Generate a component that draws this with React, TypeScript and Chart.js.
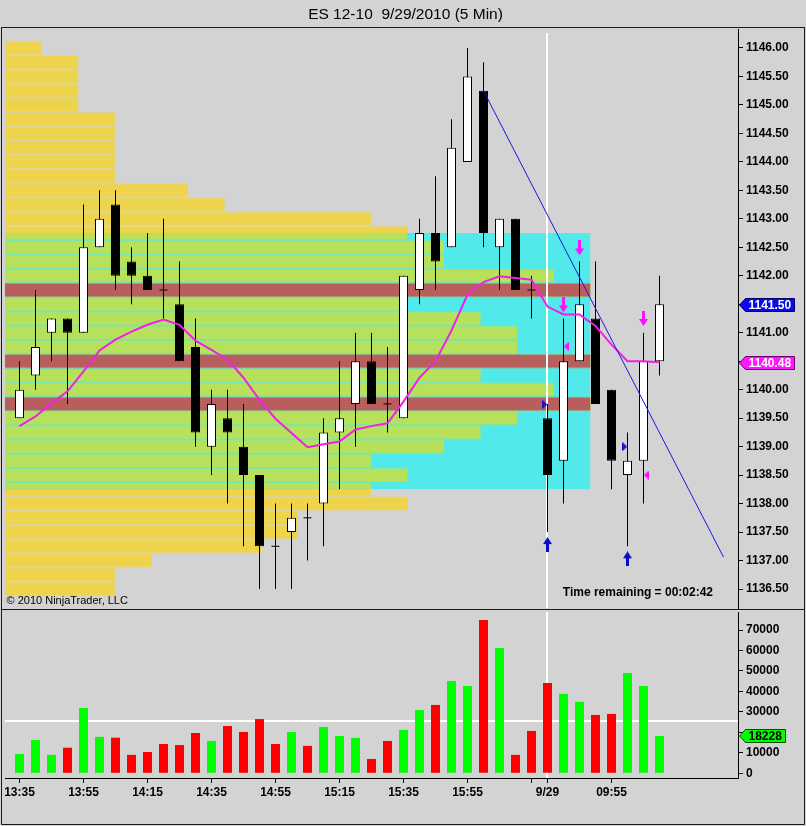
import React, { useEffect, useRef } from 'react';
import { Chart, registerables } from 'chart.js';

Chart.register(...registerables);

const FONT = 'Arial, "Liberation Sans", sans-serif';

const chartTitle = 'ES 12-10  9/29/2010 (5 Min)';
const copyrightText = '© 2010 NinjaTrader, LLC';
const timeRemainingText = 'Time remaining = 00:02:42';

const barTimes = ['13:35','13:40','13:45','13:50','13:55','14:00','14:05','14:10','14:15','14:20','14:25','14:30','14:35','14:40','14:45','14:50','14:55','15:00','15:05','15:10','15:15','15:20','15:25','15:30','15:35','15:40','15:45','15:50','15:55','16:00','16:05','16:10','16:15','09:35','09:40','09:45','09:50','09:55','10:00','10:05','10:10'];

const opens  = [1139.50,1140.25,1141.00,1141.25,1141.00,1142.50,1143.25,1142.25,1142.00,1141.75,1141.50,1140.75,1139.00,1139.50,1139.00,1138.50,1137.25,1137.50,1137.75,1138.00,1139.25,1139.75,1140.50,1139.75,1139.50,1141.75,1142.75,1142.50,1144.00,1145.25,1142.50,1143.00,1141.75,1139.50,1138.75,1140.50,1141.25,1140.00,1138.50,1138.75,1140.50];
const highs  = [1140.50,1141.75,1141.25,1141.25,1143.25,1143.50,1143.50,1142.50,1142.75,1143.00,1142.25,1141.25,1140.00,1140.00,1139.75,1138.50,1138.00,1138.00,1138.00,1139.50,1140.50,1141.00,1141.00,1140.75,1142.00,1143.00,1143.75,1144.75,1146.00,1145.75,1143.00,1143.00,1142.00,1139.75,1141.25,1142.25,1142.25,1140.00,1139.25,1141.00,1142.00];
const lows   = [1139.50,1140.00,1140.50,1139.75,1141.00,1142.50,1141.75,1141.50,1141.75,1141.25,1140.50,1139.00,1138.50,1138.00,1137.25,1136.50,1136.50,1136.50,1137.00,1137.25,1138.25,1139.00,1139.75,1139.25,1139.50,1141.50,1141.75,1142.50,1144.00,1142.50,1141.75,1141.75,1141.25,1137.50,1138.00,1140.50,1139.75,1138.25,1137.25,1138.00,1140.25];
const closes = [1140.00,1140.75,1141.25,1141.00,1142.50,1143.00,1142.00,1142.00,1141.75,1141.75,1140.50,1139.25,1139.75,1139.25,1138.50,1137.25,1137.25,1137.75,1137.75,1139.25,1139.50,1140.50,1139.75,1139.75,1142.00,1142.75,1142.25,1144.25,1145.50,1142.75,1143.00,1141.75,1141.75,1138.50,1140.50,1141.50,1139.75,1138.75,1138.75,1140.50,1141.50];
const volumes = [9400,16300,9000,12500,31900,17800,17400,9000,10400,14300,13800,19700,15800,23100,20200,26500,14300,20200,13400,22600,18200,17300,7000,15800,21200,30900,33400,45100,42700,74900,61200,9000,20700,44100,38800,34900,28500,29000,49000,42700,18228];
const smaValues = [1139.36,1139.53,1139.76,1139.97,1140.32,1140.69,1140.88,1141.02,1141.14,1141.23,1141.14,1140.86,1140.70,1140.53,1140.21,1139.82,1139.49,1139.24,1138.99,1139.04,1139.09,1139.30,1139.36,1139.41,1139.79,1140.21,1140.50,1141.04,1141.67,1141.89,1141.99,1141.96,1141.93,1141.46,1141.32,1141.32,1141.12,1140.79,1140.50,1140.50,1140.48];

const priceTicks = [1136.5,1137.0,1137.5,1138.0,1138.5,1139.0,1139.5,1140.0,1140.5,1141.0,1141.5,1142.0,1142.5,1143.0,1143.5,1144.0,1144.5,1145.0,1145.5,1146.0];
const volumeTicks = [0,10000,20000,30000,40000,50000,60000,70000];
const xTickBars = ['13:35','13:55','14:15','14:35','14:55','15:15','15:35','15:55','16:15','09:35','09:55'];
const xTickLabels = ['13:35','13:55','14:15','14:35','14:55','15:15','15:35','15:55','','9/29','09:55'];

// volume profile (TPO counts per 0.25 price level)
const profilePrices = [1146.00,1145.75,1145.50,1145.25,1145.00,1144.75,1144.50,1144.25,1144.00,1143.75,1143.50,1143.25,1143.00,1142.75,1142.50,1142.25,1142.00,1141.75,1141.50,1141.25,1141.00,1140.75,1140.50,1140.25,1140.00,1139.75,1139.50,1139.25,1139.00,1138.75,1138.50,1138.25,1138.00,1137.75,1137.50,1137.25,1137.00,1136.75,1136.50];
const profileCounts = [1,2,2,2,2,3,3,3,3,3,5,6,10,11,12,12,15,16,11,13,14,14,16,13,15,16,14,13,12,10,11,10,11,8,8,7,4,3,3];
const profileTick = 0.25;
const valueAreaHigh = 1142.75;
const valueAreaLow = 1138.25;

// drawing objects
const trendBars = [29, 44];
const trendPrices = [1145.25, 1137.06];
const longArrowBars = [33, 38];
const longArrowPrices = [1137.28, 1137.03];
const shortArrowBars = [34, 35, 39];
const shortArrowPrices = [1141.49, 1142.49, 1141.25];
const buyMarkBars = [33, 38];
const buyMarkPrices = [1139.74, 1139.00];
const sellMarkBars = [34, 39];
const sellMarkPrices = [1140.76, 1138.50];

const crossBar = 33;
const crossVolume = 25200;

const X_MIN = -0.90625;
const X_MAX = 44.90625;

const C_BG = '#D3D3D3';
const C_YELLOW = '#EED44C';
const C_GREEN = '#B7E05B';
const C_CYAN = '#52E9EA';
const C_RED = '#B85E5D';

const LAST = closes.length - 1;

function makeArrow(color: string, dir: 'up' | 'down') {
  const c = document.createElement('canvas');
  c.width = 9; c.height = 15;
  const g = c.getContext('2d')!;
  g.fillStyle = color;
  g.beginPath();
  if (dir === 'down') {
    g.moveTo(3, 0); g.lineTo(6, 0); g.lineTo(6, 8); g.lineTo(9, 8); g.lineTo(4.5, 15); g.lineTo(0, 8); g.lineTo(3, 8);
  } else {
    g.moveTo(4.5, 0); g.lineTo(9, 7); g.lineTo(6, 7); g.lineTo(6, 15); g.lineTo(3, 15); g.lineTo(3, 7); g.lineTo(0, 7);
  }
  g.closePath(); g.fill();
  return c;
}

function makeTri(color: string, dir: 'left' | 'right') {
  const c = document.createElement('canvas');
  c.width = 5; c.height = 9;
  const g = c.getContext('2d')!;
  g.fillStyle = color;
  g.beginPath();
  if (dir === 'right') { g.moveTo(0, 0); g.lineTo(5, 4.5); g.lineTo(0, 9); }
  else { g.moveTo(5, 0); g.lineTo(0, 4.5); g.lineTo(5, 9); }
  g.closePath(); g.fill();
  return c;
}

function drawTag(ctx: CanvasRenderingContext2D, tipX: number, y: number, text: string, fill: string, stroke: string, textColor: string) {
  ctx.save();
  ctx.font = `bold 12px ${FONT}`;
  const tw = ctx.measureText(text).width;
  const h = 13, tipW = 6;
  const left = Math.round(tipX) + 0.5;
  const top = Math.round(y - h / 2) + 0.5;
  const right = Math.round(left + tipW + 3 + tw + 3) + 0.5;
  ctx.beginPath();
  ctx.moveTo(left, top + h / 2);
  ctx.lineTo(left + tipW, top);
  ctx.lineTo(right, top);
  ctx.lineTo(right, top + h);
  ctx.lineTo(left + tipW, top + h);
  ctx.closePath();
  ctx.fillStyle = fill; ctx.fill();
  ctx.strokeStyle = stroke; ctx.lineWidth = 1; ctx.stroke();
  ctx.fillStyle = textColor; ctx.textBaseline = 'middle'; ctx.textAlign = 'left';
  ctx.fillText(text, left + tipW + 3, top + h / 2 + 0.5);
  ctx.restore();
}

const pricePlugin = {
  id: 'pricePanel',
  beforeDatasetsDraw(chart: any) {
    const { ctx, chartArea, scales } = chart;
    const y = scales.y, xp = scales.xp, x = scales.x;
    const maxCount = Math.max(...profileCounts);
    ctx.save();
    ctx.beginPath();
    ctx.rect(chartArea.left, chartArea.top, chartArea.right - chartArea.left, chartArea.bottom - chartArea.top);
    ctx.clip();
    const drawRow = (price: number, count: number, color: string) => {
      const top = y.getPixelForValue(price + profileTick / 2);
      const bot = y.getPixelForValue(price - profileTick / 2);
      const l = xp.getPixelForValue(0), r = xp.getPixelForValue(count);
      ctx.fillStyle = color;
      ctx.globalAlpha = 0.45;
      ctx.fillRect(l, top, r - l, bot - top);
      ctx.globalAlpha = 1;
      ctx.fillRect(l, top + 1, r - l, bot - top - 2);
    };
    profilePrices.forEach((p, i) => drawRow(p, profileCounts[i], C_YELLOW));
    const bTop = y.getPixelForValue(valueAreaHigh);
    const bBot = y.getPixelForValue(valueAreaLow);
    ctx.save();
    ctx.beginPath();
    ctx.rect(chartArea.left, bTop, chartArea.right - chartArea.left, bBot - bTop);
    ctx.clip();
    ctx.fillStyle = C_CYAN;
    ctx.fillRect(xp.getPixelForValue(0), bTop, xp.getPixelForValue(maxCount) - xp.getPixelForValue(0), bBot - bTop);
    profilePrices.forEach((p, i) => drawRow(p, profileCounts[i], C_GREEN));
    ctx.restore();
    profilePrices.forEach((p, i) => { if (profileCounts[i] === maxCount) drawRow(p, maxCount, C_RED); });
    // crosshair
    const cx = Math.floor(x.getPixelForValue(crossBar)) - 1;
    ctx.fillStyle = '#FFFFFF';
    ctx.fillRect(cx, chartArea.top + 4, 2, chartArea.bottom - chartArea.top - 4);
    ctx.restore();
  },
  afterDraw(chart: any) {
    const { ctx, chartArea, scales } = chart;
    const y = scales.y;
    drawTag(ctx, chartArea.right + 1, y.getPixelForValue(closes[LAST]), closes[LAST].toFixed(2), '#0B0BE8', '#00006A', '#FFFFFF');
    drawTag(ctx, chartArea.right + 1, y.getPixelForValue(smaValues[LAST]), smaValues[LAST].toFixed(2), '#FF18FF', '#6A006A', '#FFFFFF');
    ctx.save();
    ctx.fillStyle = '#000';
    ctx.textBaseline = 'middle';
    ctx.textAlign = 'left';
    ctx.font = `11px ${FONT}`;
    ctx.fillText(copyrightText, chartArea.left + 1.5, chartArea.bottom - 7);
    ctx.font = `bold 12px ${FONT}`;
    ctx.textAlign = 'right';
    ctx.fillText(timeRemainingText, chartArea.right - 25, chartArea.bottom - 15);
    ctx.strokeStyle = '#1A1A1A';
    ctx.lineWidth = 1;
    ctx.strokeRect(1.5, 27.5, chart.width - 3, chart.height - 28);
    ctx.restore();
  },
};

const volumePlugin = {
  id: 'volumePanel',
  beforeDatasetsDraw(chart: any) {
    const { ctx, chartArea, scales } = chart;
    const x = scales.x, y = scales.y;
    ctx.save();
    ctx.fillStyle = '#FFFFFF';
    const cx = Math.floor(x.getPixelForValue(crossBar)) - 1;
    ctx.fillRect(cx, chartArea.top, 2, chartArea.bottom - chartArea.top);
    const cy = Math.floor(y.getPixelForValue(crossVolume)) - 1;
    ctx.fillRect(chartArea.left, cy, chartArea.right - chartArea.left, 2);
    ctx.restore();
  },
  afterDraw(chart: any) {
    const { ctx, chartArea, scales } = chart;
    drawTag(ctx, chartArea.right + 1, scales.y.getPixelForValue(volumes[LAST]), String(volumes[LAST]), '#00FF00', '#005000', '#000000');
    ctx.save();
    ctx.strokeStyle = '#1A1A1A';
    ctx.lineWidth = 1;
    ctx.beginPath();
    ctx.moveTo(1.5, 0);
    ctx.lineTo(1.5, chart.height - 1.5);
    ctx.lineTo(chart.width - 1.5, chart.height - 1.5);
    ctx.lineTo(chart.width - 1.5, 0);
    ctx.stroke();
    ctx.restore();
  },
};

const fitRightAxis = (s: any) => {
  s.width = 68;
  s.paddingTop = 0;
  s.paddingBottom = 0;
};

export default function App() {
  const priceRef = useRef<HTMLCanvasElement>(null);
  const volRef = useRef<HTMLCanvasElement>(null);

  useEffect(() => {
    Chart.defaults.font.family = FONT;
    Chart.defaults.color = '#000';
    const idx = barTimes.map((_, i) => i);
    const isDoji = idx.map(i => opens[i] === closes[i]);
    const wickData = idx.map(i => ({ x: i, y: [lows[i], highs[i]] }));
    const bodyIdx = idx.filter(i => !isDoji[i]);
    const bodyData = bodyIdx.map(i => ({ x: i, y: [opens[i], closes[i]] }));
    const bodyColors = bodyIdx.map(i => (closes[i] > opens[i] ? '#FFFFFF' : '#000000'));
    const dojiData = idx.filter(i => isDoji[i]).map(i => ({ x: i, y: closes[i] }));
    const smaData = idx.map(i => ({ x: i, y: smaValues[i] }));
    const trendData = trendBars.map((b, i) => ({ x: b, y: trendPrices[i] }));
    const longData = longArrowBars.map((b, i) => ({ x: b, y: longArrowPrices[i] }));
    const shortData = shortArrowBars.map((b, i) => ({ x: b, y: shortArrowPrices[i] }));
    const buyData = buyMarkBars.map((b, i) => ({ x: b - 0.17, y: buyMarkPrices[i] }));
    const sellData = sellMarkBars.map((b, i) => ({ x: b + 0.17, y: sellMarkPrices[i] }));

    const upArrow = makeArrow('#0A0ACC', 'up');
    const downArrow = makeArrow('#FF10FF', 'down');
    const rightTri = makeTri('#1414C8', 'right');
    const leftTri = makeTri('#FF10FF', 'left');

    const tickFont = { size: 12, weight: 'bold' as const, family: FONT };

    const priceChart = new Chart(priceRef.current!, {
      type: 'bar',
      data: {
        datasets: [
          { type: 'line', label: 'short', data: shortData, showLine: false, pointStyle: downArrow, pointRadius: 5, order: 0 } as any,
          { type: 'line', label: 'long', data: longData, showLine: false, pointStyle: upArrow, pointRadius: 5, order: 0 } as any,
          { type: 'line', label: 'buy', data: buyData, showLine: false, pointStyle: rightTri, pointRadius: 5, order: 0 } as any,
          { type: 'line', label: 'sell', data: sellData, showLine: false, pointStyle: leftTri, pointRadius: 5, order: 0 } as any,
          { type: 'line', label: 'trend', data: trendData, borderColor: '#1818E0', borderWidth: 1, pointRadius: 0, order: 1 } as any,
          { type: 'line', label: 'SMA', data: smaData, borderColor: '#F020E8', borderWidth: 2, pointRadius: 0, tension: 0, order: 2 } as any,
          { type: 'line', label: 'doji', data: dojiData, showLine: false, pointStyle: 'line', pointRadius: 4, pointBorderColor: '#000', pointBackgroundColor: '#000', pointBorderWidth: 1, order: 3 } as any,
          { type: 'bar', label: 'body', data: bodyData, backgroundColor: bodyColors, borderColor: '#000', borderWidth: 1, borderSkipped: false, barThickness: 9, grouped: false, inflateAmount: 0, order: 4 } as any,
          { type: 'bar', label: 'wick', data: wickData, backgroundColor: '#000', borderWidth: 0, barThickness: 1, grouped: false, inflateAmount: 0, order: 5 } as any,
        ],
      },
      options: {
        responsive: false,
        animation: false,
        events: [],
        layout: { autoPadding: false, padding: { left: 5, right: 0, top: 0, bottom: 2 } },
        plugins: {
          legend: { display: false },
          tooltip: { enabled: false },
          title: { display: true, text: chartTitle, color: '#000', font: { size: 15.5, weight: 'normal', family: FONT }, padding: { top: 5, bottom: 5.4 } },
        },
        scales: {
          x: { type: 'linear', display: false, min: X_MIN, max: X_MAX, offset: false, grid: { offset: false } },
          xp: { type: 'linear', display: false, position: 'top', min: 0, max: 20.04, offset: false, grid: { offset: false } },
          y: {
            type: 'linear', position: 'right', min: 1136.1664, max: 1146.3336, bounds: 'data',
            afterFit: fitRightAxis,
            afterBuildTicks: (s: any) => { s.ticks = priceTicks.map(v => ({ value: v })); },
            ticks: {
              callback: (v: any) => {
                const n = Number(v);
                if (Math.abs(n - closes[LAST]) < 0.15 || Math.abs(n - smaValues[LAST]) < 0.15) return '';
                return n.toFixed(2);
              },
              color: '#000', font: tickFont, padding: 3, autoSkip: false,
            },
            grid: { drawOnChartArea: false, drawTicks: true, tickLength: 5, tickColor: '#000', tickWidth: 1 },
            border: { display: true, color: '#000', width: 1 },
          },
        },
      } as any,
      plugins: [pricePlugin],
    });

    const volChart = new Chart(volRef.current!, {
      type: 'bar',
      data: {
        datasets: [
          {
            type: 'bar', label: 'Volume',
            data: idx.map(i => ({ x: i, y: volumes[i] })),
            backgroundColor: idx.map(i => (closes[i] > opens[i] ? '#00FF00' : '#FF0000')),
            borderWidth: 0, barThickness: 9, grouped: false, inflateAmount: 0,
          } as any,
        ],
      },
      options: {
        responsive: false,
        animation: false,
        events: [],
        layout: { autoPadding: false, padding: { left: 5, right: 0, top: 2, bottom: 0 } },
        plugins: { legend: { display: false }, tooltip: { enabled: false }, title: { display: false } },
        scales: {
          x: {
            type: 'linear', position: 'bottom', min: X_MIN, max: X_MAX, bounds: 'data', offset: false,
            afterFit: (s: any) => { s.height = 48; },
            afterBuildTicks: (s: any) => { s.ticks = xTickBars.map(t => ({ value: barTimes.indexOf(t) })); },
            ticks: { autoSkip: false, maxRotation: 0, minRotation: 0, padding: 2, color: '#000', font: tickFont, callback: (_v: any, i: number) => xTickLabels[i] },
            grid: { drawOnChartArea: false, drawTicks: true, tickLength: 5, tickColor: '#000', offset: false },
            border: { display: true, color: '#000', width: 1 },
          },
          y: {
            type: 'linear', position: 'right', min: -2300, max: 78800, bounds: 'data',
            afterFit: fitRightAxis,
            afterBuildTicks: (s: any) => { s.ticks = volumeTicks.map(v => ({ value: v })); },
            ticks: {
              callback: (v: any) => (Math.abs(Number(v) - volumes[LAST]) < 3500 ? '' : String(v)),
              color: '#000', font: tickFont, padding: 3, autoSkip: false,
            },
            grid: { drawOnChartArea: false, drawTicks: true, tickLength: 5, tickColor: '#000' },
            border: { display: true, color: '#000', width: 1 },
          },
        },
      } as any,
      plugins: [volumePlugin],
    });

    return () => {
      priceChart.destroy();
      volChart.destroy();
    };
  }, []);

  return (
    <div style={{ position: 'absolute', left: 0, top: 0, width: 806, height: 826, background: C_BG, overflow: 'hidden' }}>
      <canvas ref={priceRef} width={806} height={610} style={{ position: 'absolute', left: 0, top: 0, display: 'block' }} />
      <canvas ref={volRef} width={806} height={216} style={{ position: 'absolute', left: 0, top: 610, display: 'block' }} />
    </div>
  );
}
